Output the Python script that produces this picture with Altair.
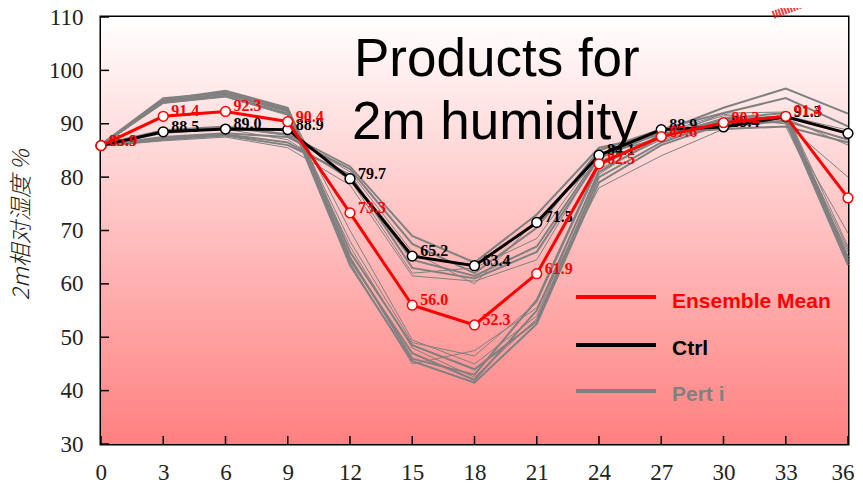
import altair as alt
import pandas as pd

# ---------------- data ----------------
hours = [0, 3, 6, 9, 12, 15, 18, 21, 24, 27, 30, 33, 36]
ens_mean = [85.9, 91.4, 92.3, 90.4, 73.3, 56.0, 52.3, 61.9, 82.5, 87.6, 90.2, 91.4, 76.1]
ctrl = [85.9, 88.5, 89.0, 88.9, 79.7, 65.2, 63.4, 71.5, 84.1, 88.9, 89.4, 91.3, 88.2]

pert_a1 = [85.9, 94.5, 96.2, 93.0, 66.0, 48.5, 44.0, 53.0, 80.0, 86.5, 90.5, 91.5, 64.0]
pert_a2 = [86.1, 94.8, 95.8, 92.6, 64.5, 47.0, 42.0, 55.0, 81.0, 87.5, 91.0, 92.0, 65.0]
pert_a3 = [85.7, 94.2, 95.5, 92.2, 68.0, 49.0, 46.5, 56.5, 82.0, 88.0, 91.5, 91.0, 66.5]
pert_a4 = [86.0, 94.0, 95.2, 91.8, 63.5, 45.5, 41.5, 52.5, 79.0, 86.0, 90.0, 90.5, 63.5]
pert_a5 = [86.2, 94.6, 96.0, 92.8, 70.0, 49.5, 45.0, 54.0, 81.5, 87.0, 92.0, 92.2, 67.0]
pert_a6 = [85.8, 94.3, 95.6, 92.4, 65.0, 46.0, 43.0, 57.0, 82.5, 87.8, 90.8, 91.3, 64.5]
pert_a7 = [85.9, 93.8, 95.0, 91.6, 67.0, 48.0, 42.5, 53.5, 80.5, 88.3, 91.8, 90.0, 69.5]
pert_a8 = [86.0, 94.1, 95.3, 92.0, 64.0, 45.0, 47.5, 55.5, 78.0, 84.0, 89.0, 89.5, 66.0]
pert_b1 = [85.9, 87.0, 87.8, 86.0, 80.5, 63.0, 61.0, 66.0, 83.5, 88.5, 93.0, 96.6, 91.9]
pert_b2 = [86.0, 87.5, 88.2, 87.5, 81.5, 67.5, 62.0, 70.5, 85.0, 89.0, 92.0, 94.8, 89.5]
pert_b3 = [85.8, 86.8, 87.5, 85.5, 78.5, 61.5, 60.5, 64.5, 84.0, 87.5, 90.5, 91.5, 88.8]
pert_b4 = [86.1, 88.8, 89.5, 88.0, 82.0, 69.0, 64.0, 73.0, 85.5, 88.0, 89.5, 90.5, 87.0]
pert_b5 = [85.9, 88.2, 89.0, 87.0, 79.5, 62.0, 63.0, 68.5, 84.5, 87.0, 90.0, 91.0, 86.0]
pert_b6 = [86.0, 87.3, 88.0, 86.5, 80.0, 64.5, 61.5, 67.0, 84.0, 88.2, 89.0, 89.5, 86.5]
pert_b7 = [85.8, 88.5, 89.3, 87.8, 81.0, 66.0, 60.0, 72.0, 83.0, 87.3, 91.0, 90.0, 80.0]

perts = [pert_a1, pert_a2, pert_a3, pert_a4, pert_a5, pert_a6, pert_a7, pert_a8,
         pert_b1, pert_b2, pert_b3, pert_b4, pert_b5, pert_b6, pert_b7]
pert_widths = [2, 2, 1, 2, 1, 2, 1, 1, 2, 2, 1, 2, 1, 2, 1]

y_ticks = [30, 40, 50, 60, 70, 80, 90, 100, 110]
x_ticks = [0, 3, 6, 9, 12, 15, 18, 21, 24, 27, 30, 33, 36]

legend_names = ["Ensemble Mean", "Ctrl", "Pert i"]
legend_colors = ["#ff0000", "#000000", "#808080"]

y_title = "2m相对湿度  %"
big_text = ["Products for", "2m humidity"]

# ---------------- layout ----------------
W, H = 747, 427
RED, GRAY = "#ff0000", "#808080"

rows = []
for i, (vals, w) in enumerate(zip(perts, pert_widths)):
    for h, v in zip(hours, vals):
        rows.append({"member": f"p{i}", "hour": h, "rh": v, "w": w})
pert_df = pd.DataFrame(rows)
mean_df = pd.DataFrame({"hour": hours, "rh": ens_mean})
ctrl_df = pd.DataFrame({"hour": hours, "rh": ctrl})

xscale = alt.Scale(domain=[0, 36], nice=False, zero=False)
yscale = alt.Scale(domain=[30, 110], nice=False, zero=False)
X = alt.X("hour:Q", scale=xscale,
          axis=alt.Axis(values=x_ticks, title=None, labelPadding=35, labelBaseline="alphabetic",
                        labelFlush=True, labelFlushOffset=6))
Y = alt.Y("rh:Q", scale=yscale,
          axis=alt.Axis(values=y_ticks, title=None, labelPadding=18))

one = pd.DataFrame({"a": [0]})

bg = alt.Chart(one).mark_rect(
    fill={"gradient": "linear", "x1": 0, "y1": 0, "x2": 0, "y2": 1,
          "stops": [{"offset": 0, "color": "#ffffff"}, {"offset": 1, "color": "#ff8080"}]}
).encode(x=alt.value(0), x2=alt.value(W), y=alt.value(0), y2=alt.value(H))

ytick_layer = alt.Chart(pd.DataFrame({"rh": y_ticks})).mark_rule(color="black", strokeWidth=1.5).encode(
    y=alt.Y("rh:Q", scale=yscale), x=alt.value(0), x2=alt.value(8))
xtick_layer = alt.Chart(pd.DataFrame({"hour": x_ticks})).mark_rule(color="black", strokeWidth=1.5).encode(
    x=alt.X("hour:Q", scale=xscale), y=alt.value(H - 8), y2=alt.value(H))

gray_lines = alt.Chart(pert_df).mark_line(color=GRAY).encode(
    x=X, y=Y, detail="member:N", strokeWidth=alt.StrokeWidth("w:Q", scale=None))

def series(df, color):
    line = alt.Chart(df).mark_line(color=color, strokeWidth=3).encode(x=X, y=Y)
    pts = alt.Chart(df).mark_point(shape="circle", filled=True, fill="white", stroke=color,
                                   strokeWidth=1.5, size=95, opacity=1).encode(x=X, y=Y)
    lbl = alt.Chart(df).mark_text(align="left", baseline="alphabetic", dx=8, dy=0,
                                  font="Liberation Serif", fontWeight="bold", fontSize=16,
                                  color=color).encode(x=X, y=Y, text=alt.Text("rh:Q", format=".1f"))
    return line, pts, lbl

cl, cp, ct = series(ctrl_df, "#000000")
ml, mp, mt = series(mean_df, RED)

big1 = alt.Chart(one).mark_text(text=big_text[0], align="left", baseline="alphabetic",
                                font="Liberation Sans", fontSize=53, color="black").encode(
    x=alt.value(253), y=alt.value(59))
big2 = alt.Chart(one).mark_text(text=big_text[1], align="left", baseline="alphabetic",
                                font="Liberation Sans", fontSize=53, color="black").encode(
    x=alt.value(251), y=alt.value(122))

ytitle = alt.Chart(one).mark_text(text=y_title, angle=270, align="center", baseline="middle",
                                  font="Noto Sans CJK SC", fontStyle="italic", fontSize=23,
                                  fontWeight=300, color="#222222").encode(
    x=alt.value(-79), y=alt.value(208))

deco = alt.Chart(one).mark_rule(color=RED, strokeWidth=8, opacity=0.75, strokeDash=[2, 1]).encode(
    x=alt.value(672), y=alt.value(-2), x2=alt.value(712), y2=alt.value(-17))

legend_layers = []
line_ys = [280, 328, 374]
text_ys = [285, 332, 378]
for name, col, ly, ty in zip(legend_names, legend_colors, line_ys, text_ys):
    legend_layers.append(alt.Chart(one).mark_rule(color=col, strokeWidth=4).encode(
        x=alt.value(475), x2=alt.value(555), y=alt.value(ly)))
    legend_layers.append(alt.Chart(one).mark_text(text=name, align="left", baseline="middle",
                                                  font="Liberation Sans", fontWeight="bold",
                                                  fontSize=21, color=col).encode(
        x=alt.value(571), y=alt.value(ty)))

chart = alt.layer(
    bg, ytick_layer, xtick_layer, gray_lines, cl, cp, ct, ml, mp, mt,
    big1, big2, ytitle, deco, *legend_layers
).properties(
    width=W, height=H,
    autosize=alt.AutoSizeParams(type="none"),
    padding={"left": 93, "top": 9, "right": 7, "bottom": 40},
).configure_view(
    stroke="black", strokeWidth=3
).configure_axis(
    domain=False, ticks=False, tickSize=0, grid=False,
    labelFont="Liberation Serif", labelFontSize=23, labelColor="#222222",
    labelOverlap=False,
)

chart.save("out.html", embed_options={"renderer": "svg", "actions": False})
